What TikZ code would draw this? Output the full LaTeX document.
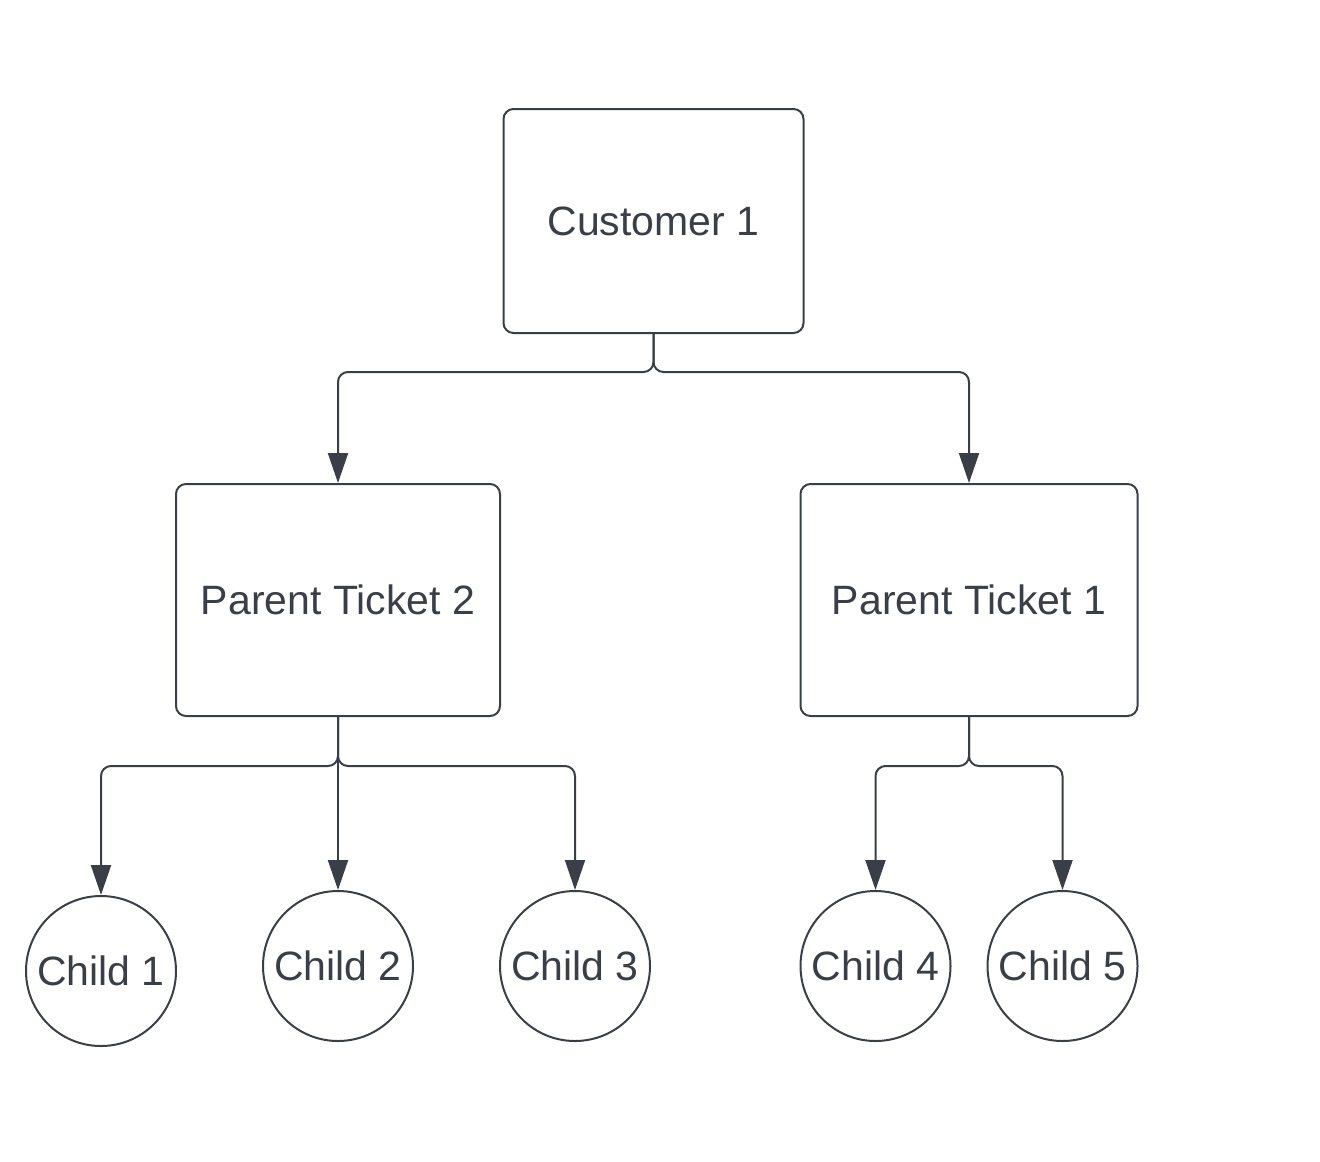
\documentclass[tikz,border=0pt]{standalone}
\usepackage{fontspec}
\setmainfont{Liberation Sans}
\usepackage{xcolor}
\usepackage{tikz}
\usetikzlibrary{trees}
\usetikzlibrary{shapes}
\usetikzlibrary{arrows.meta}
\definecolor{ink}{RGB}{58,63,71}

\begin{document}
\begin{tikzpicture}[
    level 1/.style={level distance=189.5pt, sibling distance=315.5pt,
      edge from parent path={(\tikzparentnode.south) -- ++(0,-19pt) -| (\tikzchildnode.north)}},
    level 2/.style={level distance=183pt,
      edge from parent path={(\tikzparentnode.south) -- ++(0,-24.5pt) -| (\tikzchildnode.north)}},
    edge from parent/.style={draw,rounded corners=5pt,-{Triangle[length=15pt,width=10pt]}},
    box/.style={rounded corners=5pt, draw, minimum height=116pt, inner sep=+0pt},
    leaf/.style={circle, draw, minimum size=75pt, inner sep=+0pt},
    line width=1pt, color=ink, font=\fontsize{20.5}{24}\selectfont
]
\useasboundingbox (0,0) rectangle (660pt,-580.5pt);
\node[box, minimum width=150pt, minimum height=112pt] (T) at (326.75pt,-110.5pt) {Customer 1}
  child { node[box, minimum width=162pt] (TL) {Parent Ticket 2}
    child[sibling distance=118.5pt] { node[leaf, yshift=-2.5pt] (TLL) {Child 1}}
    child[sibling distance=118.5pt] { node[leaf] (TLC) {Child 2}}
    child[sibling distance=118.5pt] { node[leaf] (TLR) {Child 3}}
  }
  child { node[box, minimum width=168.5pt] (TR) {Parent Ticket 1}
    child[sibling distance=93.5pt] { node[leaf] (TRL) {Child 4}}
    child[sibling distance=93.5pt] { node[leaf] (TRR) {Child 5}}
  }
;
\end{tikzpicture}
\end{document}
